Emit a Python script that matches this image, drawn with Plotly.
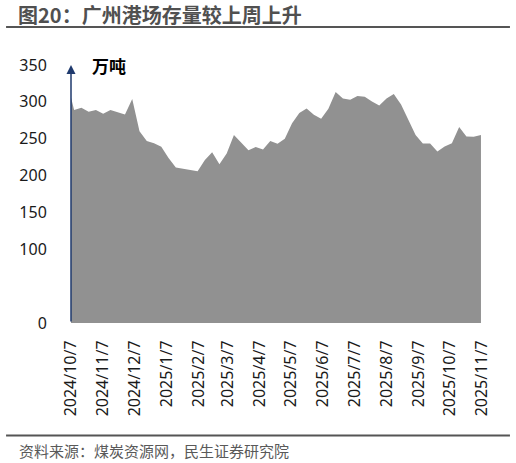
import pandas as pd
import plotly.graph_objects as go

### DADOS (semanal)
datas = ["2024-10-07"] + list(pd.date_range("2024-10-10", periods=57, freq="7D").strftime("%Y-%m-%d"))
estoque = [306,
           289, 292, 286.5, 289, 284, 289, 286.5, 283, 304, 260,
           247, 244, 239, 224, 211, 209, 207.5, 206, 221, 231.5,
           215.5, 230, 255, 245, 234.5, 238.6, 235.5, 247, 243, 250,
           271, 285, 291, 282.5, 277, 290.5, 313.5, 304.5, 303, 308,
           307, 300.5, 295, 304.5, 310.5, 296.5, 275, 255, 243.6, 243.6,
           232.5, 239.5, 244, 266, 253, 252.6, 255]

meses = ["2024-10-07", "2024-11-07", "2024-12-07", "2025-01-07", "2025-02-07",
         "2025-03-07", "2025-04-07", "2025-05-07", "2025-06-07", "2025-07-07",
         "2025-08-07", "2025-09-07", "2025-10-07", "2025-11-07"]
rotulos = ["2024/10/7", "2024/11/7", "2024/12/7", "2025/1/7", "2025/2/7",
           "2025/3/7", "2025/4/7", "2025/5/7", "2025/6/7", "2025/7/7",
           "2025/8/7", "2025/9/7", "2025/10/7", "2025/11/7"]
y_ticks = [0, 100, 150, 200, 250, 300, 350]

fonte = "Noto Sans, Noto Sans CJK SC"
azul = "#1f3a6e"

fig = go.Figure()
fig.add_trace(go.Scatter(x=datas, y=estoque, mode="lines", fill="tozeroy",
                         line=dict(width=0, color="#919191"), fillcolor="#919191",
                         hoverinfo="skip", showlegend=False))

### EIXO Y COM SETA
fig.add_annotation(x=datas[0], y=350, ax=datas[0], ay=0, xref="x", yref="y",
                   axref="x", ayref="y", showarrow=True, arrowhead=2,
                   arrowsize=1.2, arrowwidth=1.5, arrowcolor=azul, text="")

fig.add_annotation(text="<b>万吨</b>", x=0.046, y=1.0, xref="paper", yref="paper",
                   xanchor="left", yanchor="middle", showarrow=False,
                   font=dict(family="Noto Sans CJK SC", size=17, color="#000000"))
fig.add_annotation(text="资料来源：煤炭资源网，民生证券研究院", x=-0.131, y=-0.494,
                   xref="paper", yref="paper", xanchor="left", yanchor="middle",
                   showarrow=False,
                   font=dict(family="Noto Sans CJK SC", size=15, color="#595959"))

### LINHAS DO TITULO E RODAPE
fig.add_shape(type="line", xref="paper", yref="paper", x0=-0.158, x1=1.068,
              y0=1.1475, y1=1.1475, line=dict(color="#555555", width=2))
fig.add_shape(type="line", xref="paper", yref="paper", x0=-0.158, x1=1.068,
              y0=-0.4358, y1=-0.4358, line=dict(color="#555555", width=2))

fig.update_layout(
    width=516, height=463,
    margin=dict(l=71, r=34, t=65, b=140),
    paper_bgcolor="white", plot_bgcolor="white",
    title=dict(text="<b>图20：广州港场存量较上周上升</b>", xref="container", yref="container",
               x=0.035, y=1 - 16 / 463, xanchor="left", yanchor="middle",
               font=dict(family="Noto Sans CJK SC", size=20, color="#505050")),
    font=dict(family=fonte, color="#1a1a1a"),
)
fig.update_xaxes(range=["2024-10-07", "2025-11-07"], tickvals=meses, ticktext=rotulos,
                 tickangle=-90, tickfont=dict(size=16, family=fonte),
                 ticks="outside", ticklen=10, tickcolor="rgba(0,0,0,0)", automargin=False,
                 showgrid=False, showline=False, zeroline=False, fixedrange=True)
fig.update_yaxes(range=[0, 350], tickvals=y_ticks, tickfont=dict(size=16, family=fonte),
                 ticks="outside", ticklen=20, tickcolor="rgba(0,0,0,0)", automargin=False,
                 showgrid=False, showline=False, zeroline=False, fixedrange=True)

# tira a margem padrão do body para a figura ocupar a janela toda
fig.write_html("out.html", config={"displayModeBar": False},
               post_script="document.body.style.margin='0px';")
